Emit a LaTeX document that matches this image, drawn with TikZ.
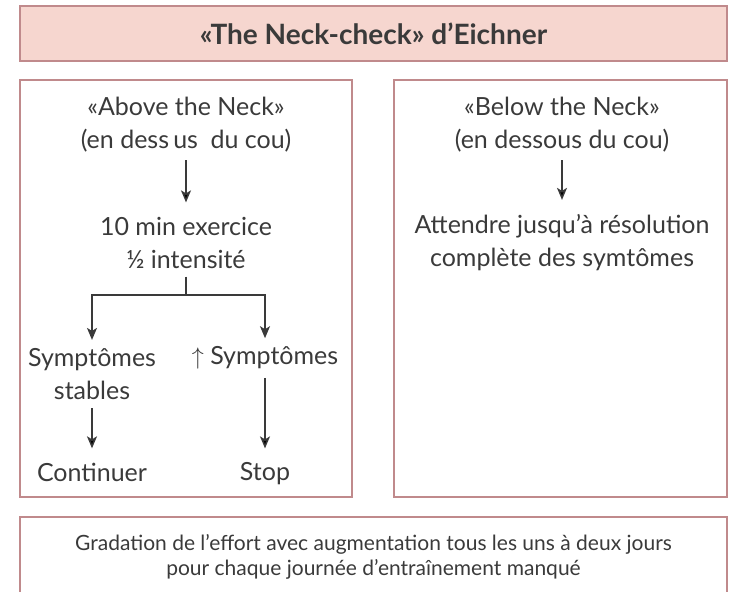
\documentclass[tikz,border=0pt]{standalone}
\usepackage{fontspec}
\setmainfont{Lato}
\usepackage{tikz}
\usetikzlibrary{arrows.meta,positioning}

\definecolor{frameRed}{HTML}{C08A8C}
\definecolor{titlePink}{HTML}{F6D6CF}
\definecolor{inkGray}{HTML}{3A3A3A}

\tikzset{
    frame/.style={draw=frameRed, line width=0.8pt, inner sep=0pt},
    txt/.style={align=center, inner sep=1pt, text=inkGray,
        font=\fontsize{12.5}{16.5}\selectfont},
    flow/.style={draw=inkGray, line width=0.75pt}
}

\begin{document}
\begin{tikzpicture}[x=0.5pt, y=-0.5pt, >={Stealth[length=6pt,width=5pt,inset=1.5pt]},
                    shorten >=6pt, shorten <=3pt]
    \useasboundingbox (0,0) rectangle (729,592);
    % Boxes
    \node [frame, fill=titlePink, minimum width=353.5pt, minimum height=27.5pt,
           text=inkGray, font=\bfseries\fontsize{14}{16}\selectfont]
          (title)  at (373.5,33.5)  {«The Neck-check» d’Eichner};
    \node [frame, minimum width=166pt, minimum height=208.5pt]
          (left)   at (186,288.5)   {};
    \node [frame, minimum width=166.5pt, minimum height=208.5pt]
          (right)  at (560.5,288.5) {};
    \node [frame, minimum width=353.5pt, minimum height=40pt, align=center,
           text=inkGray, font=\fontsize{10.5}{12.5}\selectfont]
          (effort) at (373.5,557)   {Gradation de l’effort avec augmentation tous les uns à deux jours\\
                                     pour chaque journée d’entraînement manqué};

    % Nodes {above, exo, stable, worse, cont, stop, below, wait}
    \node [txt] (above)  at (186,124.5) {«Above the Neck»\\(en dess\,us\enspace du cou)};
    \node [txt] (exo)    at (186,242.5) {10 min exercice\\½ intensité};
    \coordinate (split)  at (186,295);
    \node [txt] (stable) at (92,374)    {Symptômes\\stables};
    \node [txt] (worse)  at (265,358)   {$\uparrow$ Symptômes};
    \node [txt] (cont)   at (92,472)    {Continuer};
    \node [txt] (stop)   at (265,474)   {Stop};
    \node [txt] (below)  at (562,124.5) {«Below the Neck»\\(en dessous du cou)};
    \node [txt] (wait)   at (562,242.5) {Attendre jusqu’à résolution\\complète des symtômes};

    % Paths
    \path [flow, ->] (above) edge (exo);
    \path [flow]     (exo)   edge [shorten >=0pt] (split);
    \path [flow, ->, shorten <=0pt, shorten >=3pt] (split) -| (stable.north -| cont);
    \path [flow, ->, shorten <=0pt, shorten >=3pt] (split) -| (worse.north -| stop);
    \path [flow, ->] (stable) edge (cont);
    \path [flow, ->] (worse)  edge (stop);
    \path [flow, ->] (below) edge (wait);
\end{tikzpicture}
\end{document}
